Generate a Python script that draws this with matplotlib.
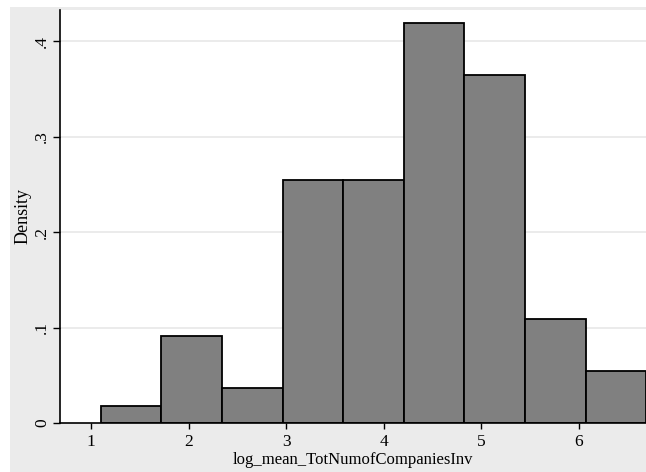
import matplotlib
matplotlib.use("Agg")
import matplotlib.pyplot as plt
from matplotlib.patches import Rectangle

# Data
bin_start = 1.0994
bin_width = 0.621
densities = [0.0182, 0.0911, 0.0365, 0.2552, 0.2552, 0.4192, 0.3645, 0.1094, 0.0547]
x_ticks = [1, 2, 3, 4, 5, 6]
x_ticklabels = ["1", "2", "3", "4", "5", "6"]
y_ticks = [0, 0.1, 0.2, 0.3, 0.4]
y_ticklabels = ["0", ".1", ".2", ".3", ".4"]
x_label = "log_mean_TotNumofCompaniesInv"
y_label = "Density"

plt.rcParams['font.family'] = ['Liberation Serif', 'DejaVu Serif']

W, H = 646, 472
fig = plt.figure(figsize=(W / 100, H / 100), dpi=100)
fig.patch.set_facecolor("white")
# gray graph region
bg = Rectangle((10 / W, 0), 1 - 10 / W, (H - 7) / H,
               transform=fig.transFigure, facecolor="#ebebeb",
               edgecolor="none", zorder=-10)
fig.patches.append(bg)

ax = fig.add_axes([60 / W, 49 / H, (W - 60) / W, (423 - 10) / H])
ax.set_zorder(1)
ax.set_facecolor("white")

lefts = [bin_start + i * bin_width for i in range(len(densities))]
ax.bar(lefts, densities, width=bin_width, align="edge", color="#808080",
       edgecolor="black", linewidth=1.3, zorder=3)

ax.set_xlim(0.6824, 6.686)
ax.set_ylim(0, 0.4329)

ax.set_xticks(x_ticks)
ax.set_xticklabels(x_ticklabels)
ax.set_yticks(y_ticks)
ax.set_yticklabels(y_ticklabels, rotation=90, va="center")

for yv in y_ticks[1:]:
    ax.axhline(yv, color="#e8e8e8", linewidth=1.2, zorder=1)

for s in ["top", "right"]:
    ax.spines[s].set_visible(False)
for s in ["left", "bottom"]:
    ax.spines[s].set_color("black")
    ax.spines[s].set_linewidth(1.2)
    ax.spines[s].set_zorder(4)

ax.tick_params(axis="both", direction="out", width=1, color="black",
               labelsize=12.5, labelcolor="black")
ax.tick_params(axis="y", length=5, pad=2)
ax.tick_params(axis="x", length=4, pad=4)

ax.set_xlabel(x_label, fontsize=12, labelpad=1)
ax.set_ylabel(y_label, fontsize=13, labelpad=2)

fig.savefig("out.png", dpi=100, facecolor=fig.get_facecolor())
